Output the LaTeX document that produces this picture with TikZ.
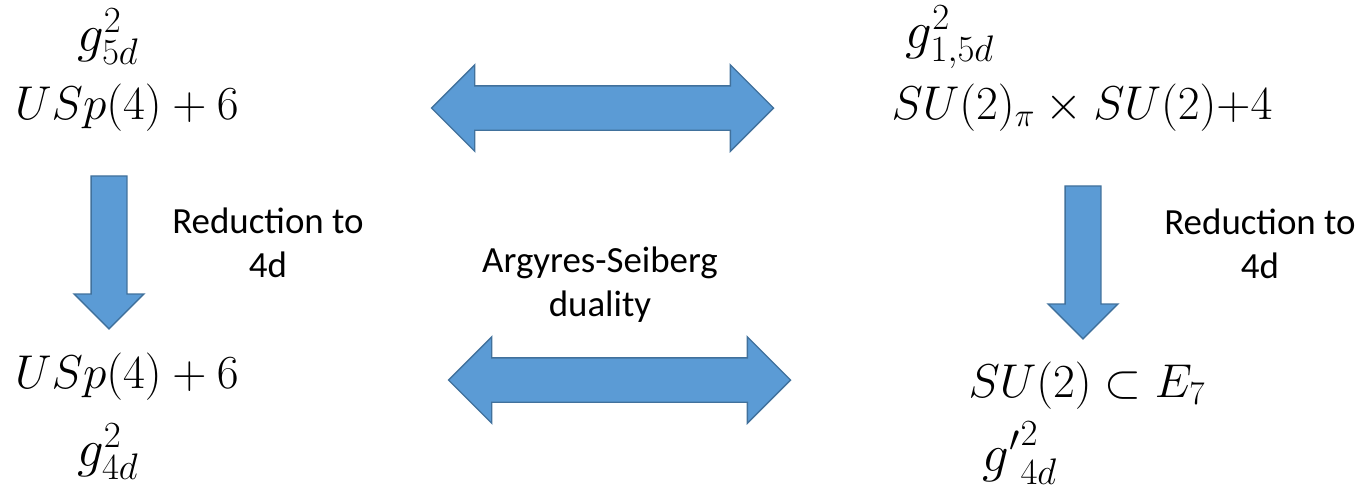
\RequirePackage{fix-cm}
\documentclass[tikz,border=0pt]{standalone}
\usepackage{fontspec}
\newfontfamily\calibri{Carlito}
\usetikzlibrary{shapes.arrows,positioning}
\definecolor{arrowfill}{HTML}{5B9BD5}
\definecolor{arrowline}{HTML}{41719C}

\begin{document}
\begin{tikzpicture}[
    theory/.style={inner sep=0pt, font=\fontsize{27}{32}\selectfont},
    coupling/.style={inner sep=0pt, font=\fontsize{30}{36}\selectfont},
    remark/.style={align=center, inner sep=0pt, font=\calibri\fontsize{21}{25}\selectfont},
    reduce/.style={single arrow, draw=arrowline, fill=arrowfill, line width=0.8pt, inner sep=0.345cm,
        shape border rotate=270, minimum height=3.06cm, minimum width=1.38cm, single arrow head extend=0.34cm},
    dual/.style={double arrow, draw=arrowline, fill=arrowfill, line width=0.8pt, inner sep=0.43cm,
        minimum height=6.84cm, minimum width=1.70cm, double arrow head extend=0.42cm}
]
\useasboundingbox (0,0) rectangle (27.24,-9.84);

% 5d theories
\node[coupling] (g5d) at (2.16,-0.74) {$g^2_{5d}$};
\node[theory] (usp5d) at (2.54,-2.16) {$USp(4)+6$};
\node[coupling] (g15d) at (19.0,-0.74) {$g^2_{1,5d}$};
\node[theory] (su5d) at (21.64,-2.16) {$SU(2)_\pi\times SU(2){+}4$};

% 4d theories
\node[theory] (usp4d) at (2.54,-7.54) {$USp(4)+6$};
\node[coupling] (g4d) at (2.16,-9.04) {$g^2_{4d}$};
\node[theory] (sue7) at (21.74,-7.72) {$SU(2)\subset E_7$};
\node[coupling] (gp4d) at (20.4,-9.06) {${g'}^2_{4d}$};

% Block arrows
\node[reduce] (redleft) at (2.18,-4.87) {};
\node[reduce] (redright) at (21.66,-5.07) {};
\node[dual] (dualtop) at (12.05,-2.16) {};
\node[dual] (dualbot) at (12.39,-7.60) {};

% Labels
\node[remark] (redleftlbl) at (5.36,-4.86) {Reduction to\\4d};
\node[remark] (redrightlbl) at (25.2,-4.87) {Reduction to\\4d};
\node[remark] (duallbl) at (12.0,-5.70) {Argyres-Seiberg\\duality};
\end{tikzpicture}
\end{document}
